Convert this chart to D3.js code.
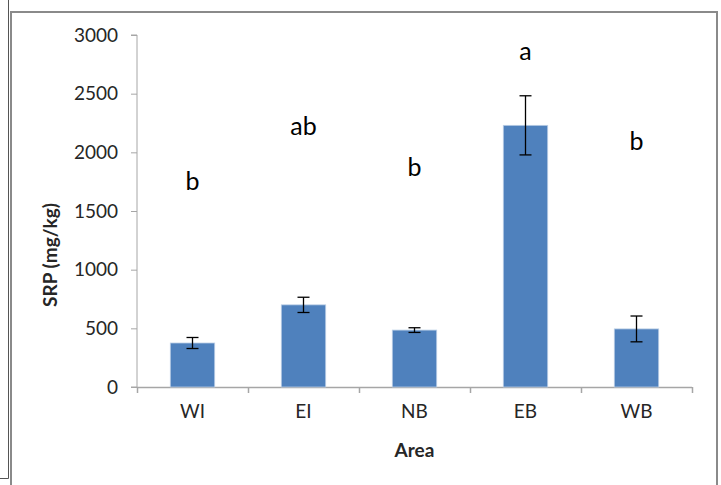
<!DOCTYPE html>
<html>
<head>
<meta charset="utf-8">
<script src="https://cdn.jsdelivr.net/npm/d3@7"></script>
<style>
html,body{margin:0;padding:0;background:#fff;}
svg{display:block;}
</style>
</head>
<body>
<svg id="chart" width="721" height="485"></svg>
<script>
const categories = ["WI", "EI", "NB", "EB", "WB"];
const srpValues = [375, 700, 485, 2230, 495];
const srpErrors = [47, 65, 20, 252, 110];
const sigLetters = ["b", "ab", "b", "a", "b"];
const letterValues = [1680, 2150, 1800, 2785, 2020];
const yTicks = [0, 500, 1000, 1500, 2000, 2500, 3000];

(function () {
const svg = d3.select("#chart");
const font = "Lato, 'Open Sans', sans-serif";
const axisColor = "#a6a6a6";

// outer frame
svg.append("line").attr("x1", 8.5).attr("y1", 0).attr("x2", 8.5).attr("y2", 478.5)
  .attr("stroke", "#555").attr("stroke-width", 1);
svg.append("line").attr("x1", 0).attr("y1", 478.5).attr("x2", 8.5).attr("y2", 478.5)
  .attr("stroke", "#555").attr("stroke-width", 1);
svg.append("rect").attr("x", 11).attr("y", 12).attr("width", 706).attr("height", 500)
  .attr("fill", "none").attr("stroke", "#8a8a8a").attr("stroke-width", 2);

const pLeft = 137, pRight = 692, pTop = 35, pBottom = 387;

const x = d3.scaleBand().domain(categories).range([pLeft, pRight]).paddingInner(0.6).paddingOuter(0.3);
const xOuter = d3.scaleBand().domain(categories).range([pLeft, pRight]);
const y = d3.scaleLinear().domain([0, 3000]).range([pBottom, pTop]);

// y axis
const yAxis = svg.append("g").attr("transform", `translate(${pLeft},0)`)
  .call(d3.axisLeft(y).tickValues(yTicks).tickSize(6).tickPadding(13).tickFormat(d3.format("d")));
yAxis.select(".domain").attr("stroke", axisColor).attr("d", `M-6,${pBottom}H0V${pTop}H-6`);
yAxis.selectAll(".tick line").attr("stroke", axisColor);
yAxis.selectAll(".tick text").attr("fill", "#262626").attr("font-family", font).attr("font-size", 19);

// x axis
const xg = svg.append("g").attr("transform", `translate(0,${pBottom})`);
xg.append("line").attr("x1", pLeft).attr("x2", pRight).attr("y1", 0.5).attr("y2", 0.5)
  .attr("stroke", axisColor).attr("stroke-width", 1.5);
const xTickPos = categories.map(c => xOuter(c)).concat([pRight]);
xg.selectAll("line.tk").data(xTickPos).enter().append("line").attr("class", "tk")
  .attr("x1", d => Math.round(d) + 0.5).attr("x2", d => Math.round(d) + 0.5)
  .attr("y1", 0).attr("y2", 6).attr("stroke", axisColor).attr("stroke-width", 1.5);
xg.selectAll("text").data(categories).enter().append("text")
  .attr("x", d => xOuter(d) + xOuter.bandwidth() / 2).attr("y", 31)
  .attr("text-anchor", "middle").attr("fill", "#262626")
  .attr("font-family", font).attr("font-size", 19).text(d => d);

// bars
const data = categories.map((c, i) => ({c, v: srpValues[i], e: srpErrors[i], l: sigLetters[i], lv: letterValues[i]}));
svg.append("g").selectAll("rect").data(data).enter().append("rect")
  .attr("x", d => x(d.c)).attr("width", x.bandwidth())
  .attr("y", d => y(d.v)).attr("height", d => y(0) - y(d.v))
  .attr("fill", "#4f81bd").attr("stroke", "#b9cde5").attr("stroke-width", 0.8);

// error bars
const eg = svg.append("g").attr("stroke", "#000").attr("stroke-width", 1.3);
data.forEach(d => {
  const cx = x(d.c) + x.bandwidth() / 2;
  eg.append("line").attr("x1", cx).attr("x2", cx).attr("y1", y(d.v + d.e)).attr("y2", y(d.v - d.e));
  eg.append("line").attr("x1", cx - 6).attr("x2", cx + 6).attr("y1", y(d.v + d.e)).attr("y2", y(d.v + d.e));
  eg.append("line").attr("x1", cx - 6).attr("x2", cx + 6).attr("y1", y(d.v - d.e)).attr("y2", y(d.v - d.e));
});

// significance letters
svg.append("g").selectAll("text").data(data).enter().append("text")
  .attr("x", d => x(d.c) + x.bandwidth() / 2).attr("y", d => y(d.lv))
  .attr("text-anchor", "middle").attr("fill", "#000")
  .attr("font-family", font).attr("font-size", 25).text(d => d.l);

// axis titles
svg.append("text").attr("x", (pLeft + pRight) / 2).attr("y", 457)
  .attr("text-anchor", "middle").attr("font-family", font).attr("font-weight", "bold")
  .attr("font-size", 19).attr("fill", "#262626").text("Area");
svg.append("text").attr("transform", "translate(57,255) rotate(-90)")
  .attr("text-anchor", "middle").attr("font-family", font).attr("font-weight", "bold")
  .attr("font-size", 19).attr("fill", "#262626").text("SRP (mg/kg)");
})();
</script>
</body>
</html>
